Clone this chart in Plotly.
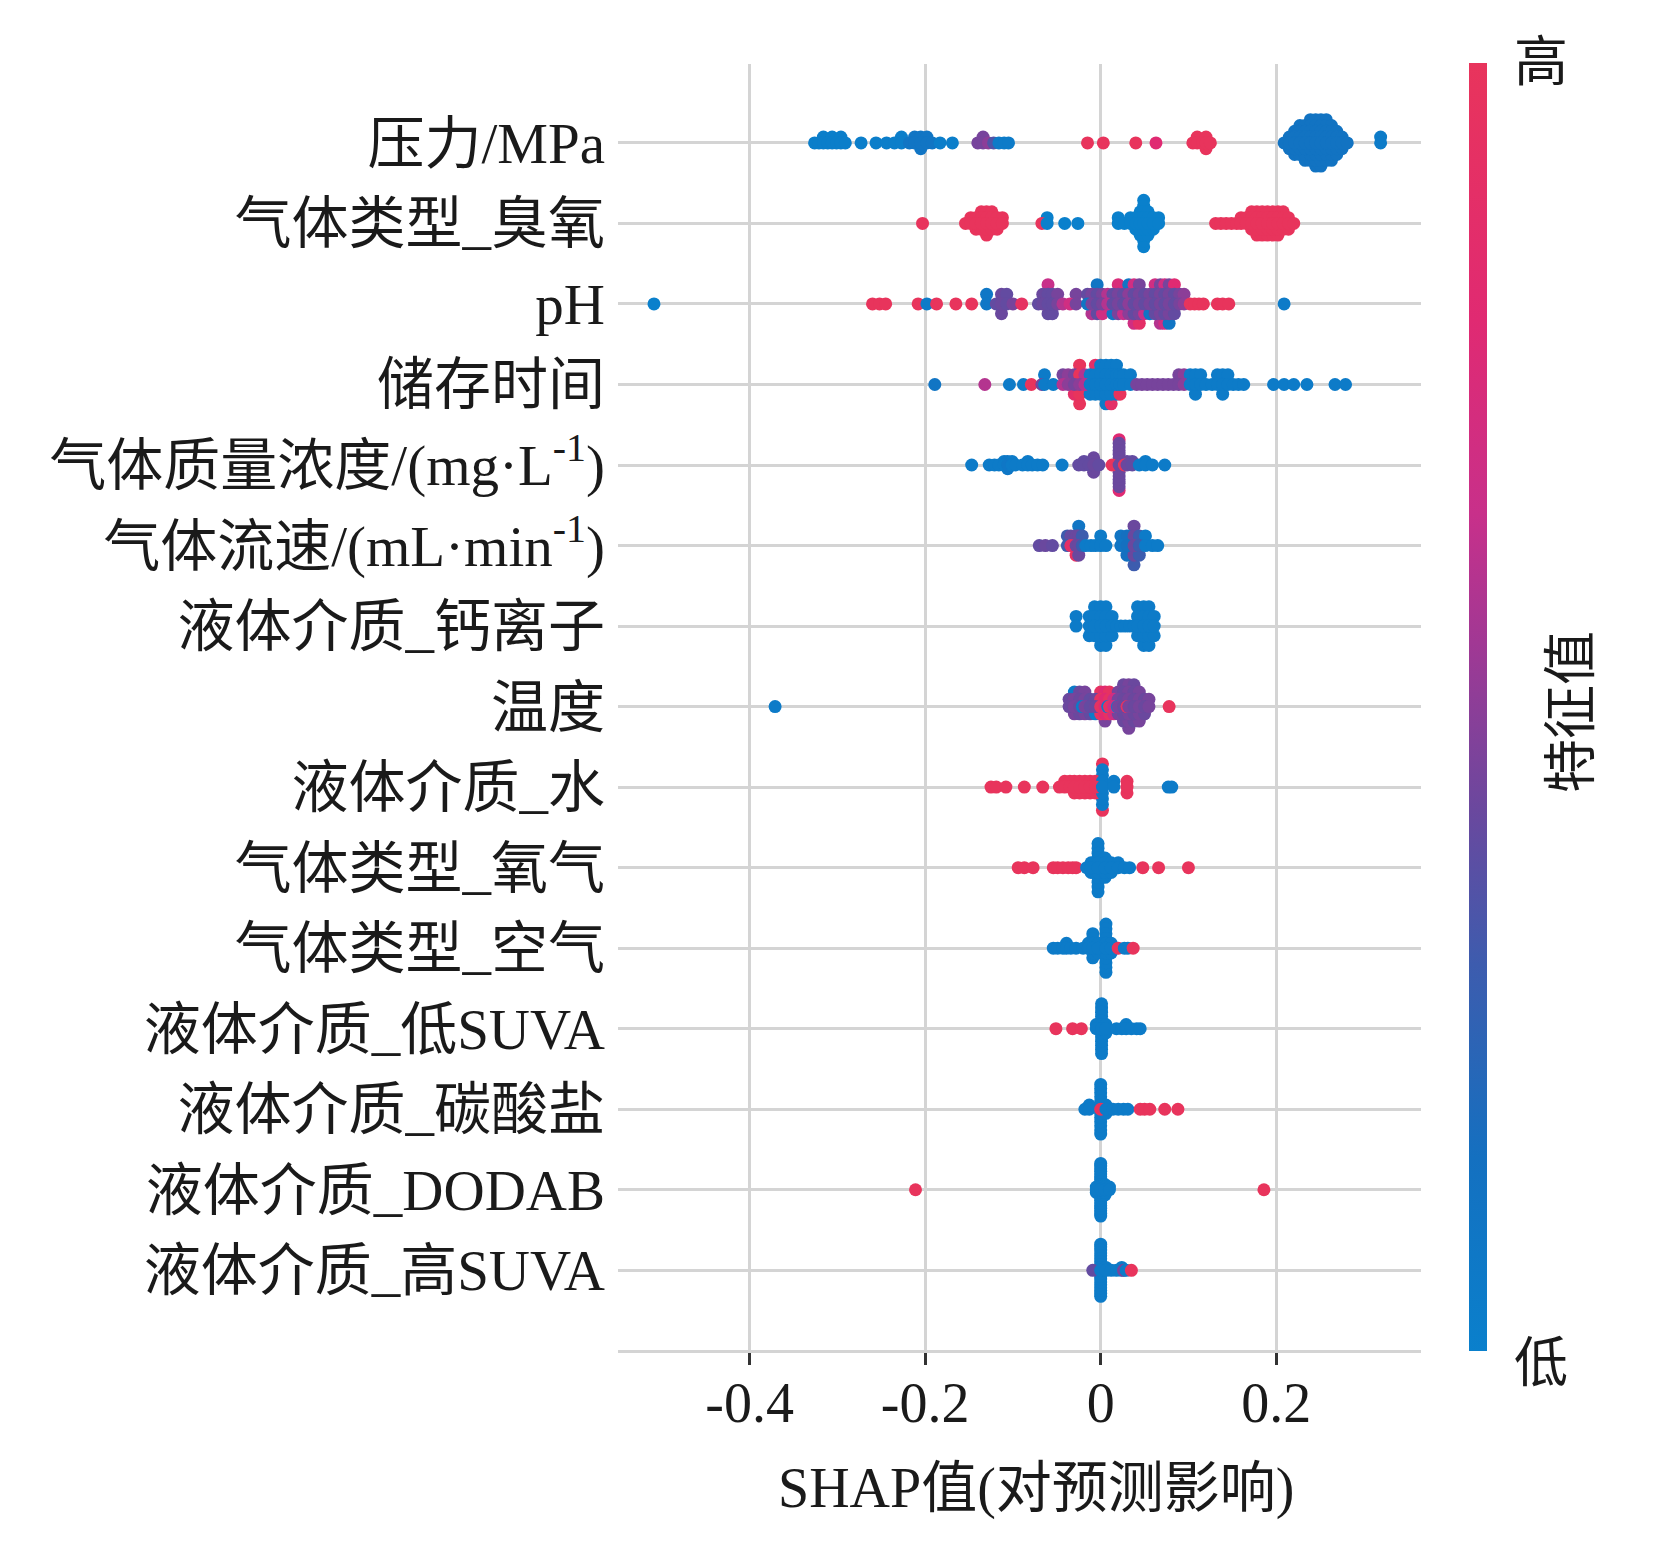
import numpy as np
import plotly.graph_objects as go

# ---------------- data (SHAP value, point count, normalised feature value) ----------------
features = ["压力/MPa", "气体类型_臭氧", "pH", "储存时间", "气体质量浓度/(mg·L<sup>-1</sup>)",
            "气体流速/(mL·min<sup>-1</sup>)", "液体介质_钙离子", "温度", "液体介质_水",
            "气体类型_氧气", "气体类型_空气", "液体介质_低SUVA", "液体介质_碳酸盐",
            "液体介质_DODAB", "液体介质_高SUVA"]

pressure_x = [-0.326, -0.321, -0.316, -0.311, -0.306, -0.301, -0.296, -0.291,
              -0.273, -0.256, -0.244, -0.235, -0.227,
              -0.218, -0.212, -0.205, -0.198, -0.192,
              -0.183, -0.169,
              -0.140, -0.134, -0.128, -0.122,
              -0.116, -0.110, -0.105,
              -0.015, 0.003, 0.040, 0.063,
              0.105, 0.110, 0.116, 0.120, 0.125,
              0.209, 0.215, 0.221, 0.227, 0.233, 0.239, 0.245, 0.251, 0.257, 0.263, 0.269, 0.275, 0.281,
              0.319]
pressure_n = [1, 1, 2, 1, 2, 1, 2, 1,
              1, 1, 1, 1, 2,
              1, 2, 3, 2, 1,
              1, 1,
              1, 2, 1, 1,
              1, 1, 1,
              1, 1, 1, 1,
              1, 2, 1, 3, 1,
              1, 3, 5, 6, 7, 8, 9, 9, 8, 7, 5, 3, 1,
              2]
pressure_v = [0.02, 0.02, 0.02, 0.02, 0.02, 0.02, 0.02, 0.02,
              0.02, 0.02, 0.02, 0.02, 0.02,
              0.10, 0.10, 0.10, 0.10, 0.10,
              0.02, 0.02,
              0.45, 0.45, 0.50, 0.35,
              0.05, 0.05, 0.05,
              1.0, 1.0, 1.0, 0.8,
              1.0, 1.0, 1.0, 1.0, 1.0,
              0.12, 0.12, 0.12, 0.12, 0.12, 0.12, 0.12, 0.12, 0.12, 0.12, 0.12, 0.12, 0.12,
              0.05]

ozone_x = [-0.203,
           -0.154, -0.148, -0.142, -0.136, -0.130, -0.124, -0.118, -0.112,
           -0.067, -0.061, -0.041, -0.026,
           0.020, 0.027, 0.034, 0.040, 0.045, 0.049, 0.054, 0.060, 0.066,
           0.131, 0.137, 0.143, 0.149, 0.155, 0.160, 0.166, 0.172, 0.178, 0.184, 0.190, 0.196, 0.202,
           0.208, 0.214, 0.220]
ozone_n = [1,
           1, 2, 3, 4, 5, 4, 3, 2,
           1, 2, 1, 1,
           2, 1, 2, 3, 5, 9, 5, 3, 2,
           1, 1, 1, 1, 1, 2, 2, 4, 5, 5, 5, 5, 5,
           4, 3, 1]
ozone_v = [1.0,
           1.0, 1.0, 1.0, 1.0, 1.0, 1.0, 1.0, 1.0,
           1.0, 0.0, 0.0, 0.0,
           0.0, 0.0, 0.0, 0.0, 0.0, 0.0, 0.0, 0.0, 0.0,
           1.0, 1.0, 1.0, 1.0, 1.0, 1.0, 1.0, 1.0, 1.0, 1.0, 1.0, 1.0, 1.0,
           1.0, 1.0, 1.0]

ph_x = [-0.509,
        -0.260, -0.252, -0.245,
        -0.208, -0.198, -0.187,
        -0.165, -0.147,
        -0.130,
        -0.119, -0.113, -0.107, -0.100,
        -0.090,
        -0.071, -0.066, -0.060, -0.060, -0.055, -0.049, -0.043,
        -0.035, -0.028,
        -0.015, -0.015, -0.010, -0.010, -0.004, -0.004, 0.002, 0.002, 0.008, 0.014, 0.014,
        0.020, 0.020, 0.026, 0.026, 0.032, 0.032, 0.038, 0.038, 0.044, 0.044, 0.050, 0.050,
        0.056, 0.056, 0.062, 0.062, 0.068, 0.068, 0.073, 0.073, 0.078, 0.078, 0.084, 0.084,
        0.090, 0.095,
        0.102, 0.107, 0.112, 0.117, 0.133, 0.139, 0.146,
        0.209]
ph_n = [1,
        1, 1, 1,
        1, 1, 1,
        1, 1,
        2,
        1, 3, 2, 1,
        1,
        1, 2, 3, 1, 3, 2, 1,
        1, 2,
        1, 1, 2, 1, 3, 1, 2, 1, 2, 2, 1,
        3, 1, 2, 1, 3, 1, 3, 2, 4, 1, 2, 1,
        2, 1, 3, 1, 4, 1, 3, 2, 4, 1, 3, 1,
        2, 2,
        1, 1, 1, 1, 1, 1, 1,
        1]
ph_v = [0.0,
        1.0, 1.0, 1.0,
        1.0, 0.05, 1.0,
        1.0, 1.0,
        0.08,
        0.40, 0.42, 0.40, 0.45,
        0.95,
        0.40, 0.42, 0.40, 0.65, 0.40, 0.45, 0.60,
        0.70, 0.45,
        0.10, 0.40, 0.45, 0.60, 0.40, 0.10, 0.45, 0.70, 0.60, 0.40, 0.10,
        0.45, 0.75, 0.40, 0.65, 0.50, 0.10, 0.40, 0.70, 0.45, 0.90, 0.40, 0.65,
        0.45, 0.10, 0.40, 0.70, 0.45, 0.60, 0.40, 0.70, 0.45, 0.10, 0.40, 0.80,
        0.45, 0.50,
        1.0, 1.0, 1.0, 1.0, 1.0, 1.0, 1.0,
        0.05]

storage_x = [-0.189,
             -0.132,
             -0.104, -0.088,
             -0.079, -0.067, -0.064,
             -0.054,
             -0.043, -0.043, -0.037, -0.030, -0.030, -0.024, -0.024, -0.018,
             -0.012, -0.006, -0.006, 0.000, 0.006, 0.012, 0.012, 0.018, 0.022, 0.022, 0.026,
             0.034,
             0.041, 0.047, 0.053, 0.059, 0.065, 0.071, 0.077, 0.083, 0.089, 0.095,
             0.102, 0.108, 0.114, 0.120, 0.127, 0.133, 0.139, 0.145, 0.151, 0.157, 0.163,
             0.197, 0.209, 0.220, 0.235, 0.267, 0.279]
storage_n = [1,
             1,
             1, 1,
             1, 1, 2,
             1,
             1, 1, 2, 2, 1, 1, 4, 2,
             3, 3, 1, 4, 5, 4, 1, 4, 2, 1, 2,
             2,
             1, 1, 1, 1, 1, 1, 1, 1, 2, 2,
             2, 3, 2, 1, 1, 2, 3, 2, 1, 1, 1,
             1, 1, 1, 1, 1, 1]
storage_v = [0.10,
             0.60,
             0.05, 0.05,
             1.0, 0.45, 0.05,
             0.05,
             0.60, 0.45, 0.50, 0.45, 0.90, 0.50, 1.0, 0.60,
             0.05, 0.05, 0.90, 0.05, 0.05, 0.05, 0.90, 0.05, 0.05, 1.0, 0.05,
             0.05,
             0.45, 0.45, 0.45, 0.45, 0.45, 0.45, 0.45, 0.45, 0.45, 0.50,
             0.05, 0.05, 0.05, 0.05, 0.05, 0.05, 0.05, 0.05, 0.05, 0.05, 0.05,
             0.05, 0.05, 0.05, 0.05, 0.05, 0.05]

conc_x = [-0.147,
          -0.127, -0.121, -0.116, -0.110, -0.106, -0.101, -0.097,
          -0.089, -0.083, -0.078, -0.072, -0.066,
          -0.044,
          -0.025, -0.019, -0.013, -0.008, -0.002,
          0.013,
          0.021, 0.021,
          0.027, 0.030,
          0.036, 0.044, 0.051, 0.059,
          0.073]
conc_n = [1,
          1, 1, 1, 2, 3, 2, 1,
          1, 2, 1, 1, 1,
          1,
          1, 2, 1, 5, 1,
          1,
          13, 2,
          1, 2,
          2, 1, 2, 1,
          1]
conc_v = [0.05,
          0.05, 0.05, 0.05, 0.05, 0.08, 0.05, 0.05,
          0.05, 0.05, 0.05, 0.05, 0.05,
          0.05,
          0.40, 0.40, 0.40, 0.42, 0.40,
          1.0,
          0.42, 0.80,
          1.0, 0.42,
          0.40, 0.05, 0.05, 0.05,
          0.05]

flow_x = [-0.070, -0.063, -0.055,
          -0.038, -0.034, -0.034, -0.028, -0.028, -0.025, -0.025, -0.021,
          -0.017, -0.011, -0.006, 0.000, 0.006,
          0.023, 0.030, 0.038, 0.038, 0.044, 0.051, 0.059, 0.065]
flow_n = [1, 1, 1,
          2, 1, 1, 2, 1, 3, 1, 2,
          1, 1, 1, 2, 1,
          2, 3, 4, 1, 3, 2, 1, 1]
flow_v = [0.40, 0.42, 0.40,
          0.30, 0.90, 0.40, 0.42, 0.95, 0.42, 0.10, 0.30,
          0.05, 0.05, 0.05, 0.05, 0.05,
          0.10, 0.15, 0.42, 0.30, 0.30, 0.05, 0.05, 0.05]

calcium_x = [-0.028,
             -0.013, -0.007, 0.000, 0.006, 0.013,
             0.018, 0.023, 0.028, 0.033, 0.038,
             0.042, 0.049, 0.055, 0.061]
calcium_n = [2,
             3, 4, 5, 5, 3,
             1, 1, 1, 1, 1,
             4, 5, 5, 3]
calcium_v = [0.05,
             0.05, 0.05, 0.05, 0.05, 0.05,
             0.05, 0.05, 0.05, 0.05, 0.05,
             0.05, 0.05, 0.05, 0.05]

temp_x = [-0.371,
          -0.036, -0.030, -0.030, -0.024, -0.021, -0.018, -0.012, -0.006, -0.006,
          0.000, 0.005, 0.005, 0.008, 0.010, 0.015, 0.019, 0.020, 0.026, 0.030,
          0.032, 0.038, 0.044, 0.050, 0.055,
          0.078]
temp_n = [1,
          2, 3, 1, 4, 1, 4, 3, 2, 1,
          4, 4, 1, 1, 4, 3, 1, 4, 6, 1,
          7, 6, 5, 3, 2,
          1]
temp_v = [0.05,
          0.42, 0.45, 0.05, 0.42, 0.05, 0.45, 0.40, 0.42, 0.05,
          0.95, 0.80, 0.45, 0.05, 0.95, 0.70, 0.05, 0.45, 0.42, 0.95,
          0.45, 0.42, 0.45, 0.42, 0.45,
          1.0]

water_x = [-0.125, -0.119, -0.108, -0.087, -0.066,
           -0.047, -0.041, -0.035, -0.030, -0.024, -0.018, -0.012, -0.006,
           0.002, 0.002,
           0.015,
           0.030,
           0.077, 0.081]
water_n = [1, 1, 1, 1, 1,
           1, 2, 2, 3, 3, 3, 3, 3,
           7, 2,
           2,
           3,
           1, 1]
water_v = [1.0, 1.0, 1.0, 1.0, 1.0,
           1.0, 1.0, 1.0, 1.0, 1.0, 1.0, 1.0, 1.0,
           0.05, 1.0,
           0.05,
           1.0,
           0.05, 0.05]

oxygen_x = [-0.094, -0.087, -0.077,
            -0.054, -0.049, -0.043, -0.037, -0.032, -0.028,
            -0.016, -0.011, -0.003, 0.005, 0.012, 0.020, 0.027, 0.033,
            0.048, 0.066, 0.100]
oxygen_n = [1, 1, 1,
            1, 1, 1, 1, 1, 1,
            1, 3, 11, 5, 3, 2, 1, 1,
            1, 1, 1]
oxygen_v = [1.0, 1.0, 1.0,
            1.0, 1.0, 1.0, 1.0, 1.0, 1.0,
            0.05, 0.05, 0.05, 0.05, 0.05, 0.05, 0.05, 0.05,
            1.0, 1.0, 1.0]

air_x = [-0.054, -0.049, -0.043, -0.039, -0.034, -0.028,
         -0.020, -0.014, -0.009, -0.003,
         0.006, 0.012,
         0.020, 0.027, 0.031, 0.037]
air_n = [1, 1, 1, 2, 1, 1,
         1, 2, 6, 3,
         11, 3,
         1, 1, 1, 1]
air_v = [0.05, 0.05, 0.05, 0.05, 0.05, 0.05,
         0.05, 0.05, 0.05, 0.05,
         0.05, 0.05,
         1.0, 0.05, 0.05, 1.0]

lowsuva_x = [-0.051, -0.032, -0.022,
             -0.005, 0.001, 0.006,
             0.018, 0.024, 0.029, 0.035, 0.041, 0.045]
lowsuva_n = [1, 1, 1,
             2, 13, 3,
             1, 1, 2, 1, 1, 1]
lowsuva_v = [1.0, 1.0, 1.0,
             0.05, 0.05, 0.05,
             0.05, 0.05, 0.05, 0.05, 0.05, 0.05]

carbonate_x = [-0.018, -0.013, 0.000, 0.000, 0.006, 0.014, 0.020, 0.026, 0.031,
               0.045, 0.050, 0.056, 0.073, 0.088]
carbonate_n = [1, 2, 1, 12, 3, 1, 1, 1, 1,
               1, 1, 1, 1, 1]
carbonate_v = [0.05, 0.05, 1.0, 0.05, 0.05, 0.05, 0.05, 0.05, 0.05,
               1.0, 1.0, 1.0, 1.0, 1.0]

dodab_x = [-0.211, -0.005, 0.000, 0.005, 0.010, 0.186]
dodab_n = [1, 3, 21, 5, 2, 1]
dodab_v = [1.0, 0.05, 0.05, 0.05, 0.05, 1.0]

highsuva_x = [-0.009, 0.000, 0.006, 0.012, 0.018, 0.024, 0.026, 0.029, 0.035]
highsuva_n = [1, 19, 2, 1, 1, 2, 1, 1, 1]
highsuva_v = [0.40, 0.05, 0.05, 0.05, 0.05, 0.05, 0.45, 0.05, 1.0]

x_ticks = [-0.4, -0.2, 0, 0.2]
x_ticktext = ["-0.4", "-0.2", "0", "0.2"]

rows = [
    (pressure_x, pressure_n, pressure_v),
    (ozone_x, ozone_n, ozone_v),
    (ph_x, ph_n, ph_v),
    (storage_x, storage_n, storage_v),
    (conc_x, conc_n, conc_v),
    (flow_x, flow_n, flow_v),
    (calcium_x, calcium_n, calcium_v),
    (temp_x, temp_n, temp_v),
    (water_x, water_n, water_v),
    (oxygen_x, oxygen_n, oxygen_v),
    (air_x, air_n, air_v),
    (lowsuva_x, lowsuva_n, lowsuva_v),
    (carbonate_x, carbonate_n, carbonate_v),
    (dodab_x, dodab_n, dodab_v),
    (highsuva_x, highsuva_n, highsuva_v),
]

# ---------------- beeswarm layout (shap-style stacking) ----------------
def swarm(xs, ns, vs):
    px, off, pc = [], [], []
    layers = {}
    for x, n, v in zip(xs, ns, vs):
        for _ in range(n):
            k = layers.get(x, 0)
            o = np.ceil(k / 2) * ((k % 2) * 2 - 1)
            layers[x] = k + 1
            px.append(x)
            off.append(o)
            pc.append(v)
    off = np.array(off, dtype=float)
    off *= 0.9 * 0.4 / np.max(off + 1)
    return np.array(px), off, np.array(pc)

all_x, all_y, all_c, all_o = [], [], [], []
for i, (xs, ns, vs) in enumerate(rows):
    px, off, pc = swarm(xs, ns, vs)
    all_x.extend(px)
    all_y.extend(i - off)
    all_c.extend(pc)
    all_o.extend(np.abs(off))
order = np.argsort(-np.array(all_o), kind="stable")
all_x = np.array(all_x)[order]
all_y = np.array(all_y)[order]
all_c = np.array(all_c)[order]

colorscale = [[0.0, "#0a80cc"], [0.15, "#1470c0"], [0.3, "#3d5cae"], [0.42, "#6a489e"],
              [0.55, "#a13894"], [0.65, "#c8308a"], [0.8, "#e02a72"], [1.0, "#e8345c"]]

FONT = "Liberation Serif, 'Noto Sans CJK SC', serif"

# plot-area geometry (pixels)
L, R, T, B = 618, 1421, 64, 1350
W, H = 1678, 1568
def px2paper_x(p):
    return (p - L) / (R - L)
def px2paper_y(p):
    return (B - p) / (B - T)

fig = go.Figure()
fig.add_trace(go.Scatter(
    x=all_x, y=all_y, mode="markers",
    marker=dict(size=13, color=all_c, colorscale=colorscale, cmin=0, cmax=1,
                line=dict(width=0), opacity=1,
                showscale=True,
                colorbar=dict(thickness=18, thicknessmode="pixels",
                              len=B - T + 2, lenmode="pixels",
                              x=px2paper_x(1469), xanchor="left", xpad=0, ypad=0,
                              y=0.5, yanchor="middle",
                              outlinewidth=0, showticklabels=False, ticks="")),
    hoverinfo="skip", showlegend=False))

fig.update_layout(
    width=W, height=H,
    margin=dict(l=L, r=W - R, t=T, b=H - B),
    plot_bgcolor="white", paper_bgcolor="white",
    font=dict(family=FONT, color="#1a1a1a"),
    showlegend=False,
)
fig.update_xaxes(
    range=[-0.55, 0.365], tickvals=x_ticks, ticktext=x_ticktext,
    showgrid=True, gridcolor="#d4d4d4", gridwidth=3, zeroline=False,
    showline=True, linecolor="#d4d4d4", linewidth=3,
    ticks="outside", ticklen=12, tickwidth=3, tickcolor="#333333",
    ticklabelstandoff=-10,
    tickfont=dict(size=56, family=FONT, color="#1a1a1a"), automargin=False,
)
fig.update_yaxes(
    range=[14.99, -0.98], tickvals=list(range(len(features))), ticktext=features,
    showgrid=True, gridcolor="#d4d4d4", gridwidth=3, zeroline=False, showline=False,
    ticks="", ticklabelstandoff=12,
    tickfont=dict(size=57, family=FONT, color="#1a1a1a"), automargin=False,
)

ann_font = dict(family=FONT, size=54, color="#1a1a1a")
fig.add_annotation(text="高", x=px2paper_x(1541), y=px2paper_y(63), xref="paper", yref="paper",
                   showarrow=False, font=ann_font, xanchor="center", yanchor="middle")
fig.add_annotation(text="低", x=px2paper_x(1541), y=px2paper_y(1364), xref="paper", yref="paper",
                   showarrow=False, font=ann_font, xanchor="center", yanchor="middle")
fig.add_annotation(text="特征值", x=px2paper_x(1572), y=px2paper_y(712), xref="paper", yref="paper",
                   showarrow=False, font=ann_font, textangle=-90, xanchor="center", yanchor="middle")
fig.add_annotation(text="SHAP值(对预测影响)", x=px2paper_x(1036), y=px2paper_y(1488),
                   xref="paper", yref="paper", showarrow=False,
                   font=dict(family=FONT, size=56, color="#1a1a1a"),
                   xanchor="center", yanchor="middle")

fig.write_html("out.html", config={"displayModeBar": False},
               post_script="document.body.style.margin='0px';")
